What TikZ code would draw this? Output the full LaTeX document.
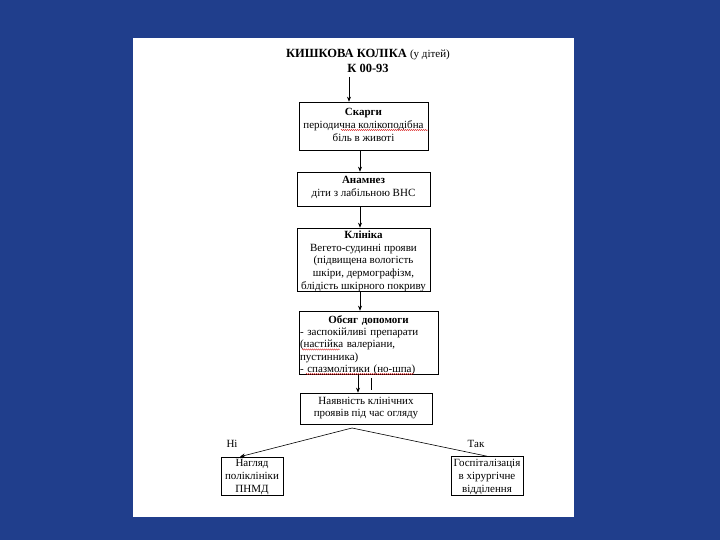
\documentclass[tikz,border=0pt]{standalone}
\usepackage{fontspec}
\setmainfont{Liberation Serif}
\usetikzlibrary{arrows.meta,decorations.pathmorphing,calc}
\definecolor{bgblue}{RGB}{32,62,140}
\definecolor{spellred}{RGB}{220,40,40}
\begin{document}
\begin{tikzpicture}[x=1pt,y=-1pt,
  box/.style={draw, line width=0.6pt, inner sep=0pt},
  txt/.style={inner sep=0pt, align=center, font=\fontsize{11}{12.8}\selectfont},
  arr/.style={-{Stealth[length=5pt,width=4pt]}, line width=0.6pt},
  lbl/.style={font=\fontsize{11}{13}\selectfont, inner sep=0pt},
  wavy/.style={spellred, line width=0.4pt, decorate, decoration={snake, segment length=2pt, amplitude=0.6pt}}]
\useasboundingbox (0,0) rectangle (720,540);
\fill[bgblue] (0,0) rectangle (720,540);
\fill[white] (133,38) rectangle (574,517);

\node[align=center, inner sep=0pt, font=\fontsize{12.5}{15}\selectfont] (title) at (368,61)
  {\textbf{КИШКОВА КОЛІКА} {\fontsize{11}{13}\selectfont (у дітей)}\\\textbf{К 00-93}};

\node[box, minimum width=129pt, minimum height=48pt] (b1) at (363.5,126) {};
\node[txt] (b1t) at ($(b1.center)+(0,-1)$) {\textbf{Скарги}\\періодична колікоподібна\\біль в животі};

\node[box, minimum width=133pt, minimum height=34pt] (b2) at (363.5,189) {};
\node[txt] (b2t) at ($(b2.center)+(0,-1.5)$) {\textbf{Анамнез}\\діти з лабільною ВНС};

\node[box, minimum width=133pt, minimum height=63pt] (b3) at (363.5,259.5) {};
\node[txt, font=\fontsize{11}{12.8}\selectfont] (b3t) at ($(b3.center)+(0,1.8)$)
  {\textbf{Клініка}\\Вегето-судинні прояви\\(підвищена вологість\\шкіри, дермографізм,\\блідість шкірного покриву};

\node[box, minimum width=139pt, minimum height=63pt] (b4) at (368.5,342.5) {};
\node[txt, align=left, text width=137pt, font=\fontsize{11}{12.3}\selectfont] (b4t) at ($(b4.center)+(0,2.5)$)
  {\makebox[137pt]{\textbf{Обсяг допомоги}}\\- заспокійливі препарати\\(настійка валеріани,\\пустинника)\\- спазмолітики (но-шпа)};

\node[box, minimum width=132pt, minimum height=31pt] (b5) at (366,408.5) {};
\node[txt] (b5t) at ($(b5.center)+(0,-0.5)$) {Наявність клінічних\\проявів під час огляду};

\node[box, minimum width=62pt, minimum height=38pt] (l) at (252,476) {};
\node[txt] (lt) at ($(l.center)+(0,1)$) {Нагляд\\поліклініки\\ПНМД};

\node[box, minimum width=72pt, minimum height=39pt] (r) at (487,476) {};
\node[txt] (rt) at ($(r.center)+(0,1)$) {Госпіталізація\\в хірургічне\\відділення};

\node[lbl] (ni) at (232,444) {Ні};
\node[lbl] (tak) at (476,444) {Так};

\coordinate (x349) at (349,0);
\coordinate (x360) at (360,0);
\coordinate (x358) at (358,0);
\draw[arr] (title.south -| x349) ++(0,4) -- (b1.north -| x349);
\draw[arr] (b1.south -| x360) -- (b2.north -| x360);
\draw[arr] (b2.south -| x360) -- (b3.north -| x360);
\draw[arr] (b3.south -| x360) -- (b4.north -| x360);
\draw[arr] (b4.south -| x358) -- (b5.north -| x358);
\draw[line width=1.8pt] (371.5,378) -- (371.5,390);

\coordinate (apex) at (352,428);
\draw[arr] (apex) -- ($(l.north)+(-12,0)$);
\draw[line width=0.6pt] (apex) -- (r.north);

\draw[wavy] (341,130) -- (428,130);
\draw[wavy] (302,349.5) -- (340,349.5);
\draw[wavy] (306,374) -- (414,374);
\end{tikzpicture}
\end{document}
